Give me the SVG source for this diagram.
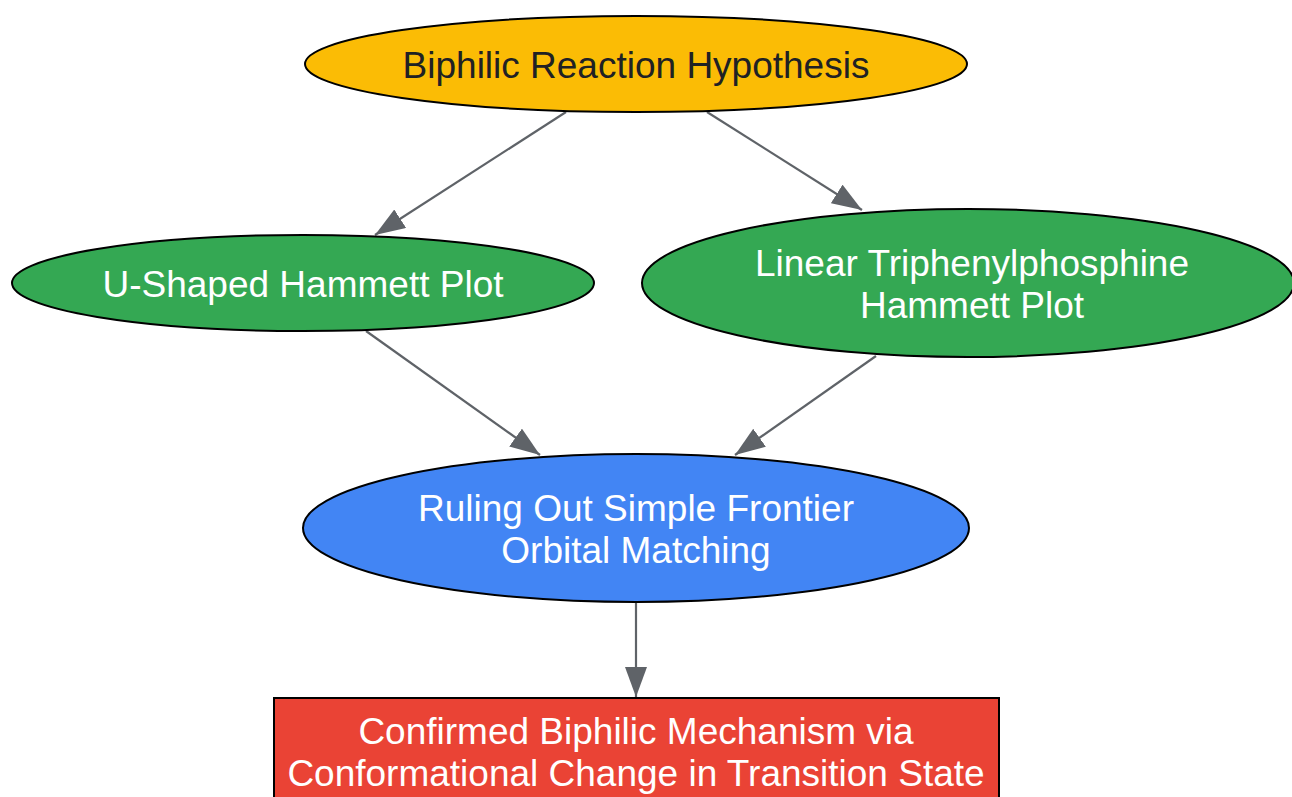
<svg xmlns="http://www.w3.org/2000/svg" width="1292" height="797" viewBox="0 0 1292 797">
<style>
.n{stroke:#000;stroke-width:2}
.t{font-family:"Liberation Sans",Arial,sans-serif;font-size:37px;text-anchor:middle;fill:#fff}
.e{stroke:#5f6368;stroke-width:2.2;fill:none}
</style>
<defs>
<marker id="a" viewBox="0 0 30 22" refX="30" refY="11" markerWidth="30" markerHeight="22" markerUnits="userSpaceOnUse" orient="auto">
<path d="M0,0 L30,11 L0,22 Z" fill="#5f6368"/>
</marker>
</defs>
<rect width="1292" height="797" fill="#fff"/>
<g id="edges">
<line class="e" x1="566" y1="112" x2="375" y2="235" marker-end="url(#a)"/>
<line class="e" x1="707" y1="112" x2="862" y2="210" marker-end="url(#a)"/>
<line class="e" x1="366" y1="331" x2="540" y2="455" marker-end="url(#a)"/>
<line class="e" x1="876" y1="356" x2="735" y2="455" marker-end="url(#a)"/>
<line class="e" x1="636" y1="602" x2="636" y2="697" marker-end="url(#a)"/>
</g>
<g id="hyp">
<ellipse class="n" cx="636" cy="64" rx="331" ry="48" fill="#FBBC05"/>
<text class="t" x="636" y="78" style="fill:#202124">Biphilic Reaction Hypothesis</text>
</g>
<g id="ushaped">
<ellipse class="n" cx="303" cy="283" rx="291" ry="48" fill="#34A853"/>
<text class="t" x="303" y="297">U-Shaped Hammett Plot</text>
</g>
<g id="linear">
<ellipse class="n" cx="968" cy="283" rx="326" ry="74" fill="#34A853"/>
<text class="t" x="972" y="276">Linear Triphenylphosphine</text>
<text class="t" x="972" y="318">Hammett Plot</text>
</g>
<g id="ruling">
<ellipse class="n" cx="636" cy="528" rx="333" ry="74" fill="#4285F4"/>
<text class="t" x="636" y="521">Ruling Out Simple Frontier</text>
<text class="t" x="636" y="563">Orbital Matching</text>
</g>
<g id="confirmed">
<rect class="n" x="274" y="698" width="725" height="110" fill="#EA4335"/>
<text class="t" x="636" y="744">Confirmed Biphilic Mechanism via</text>
<text class="t" x="636" y="786">Conformational Change in Transition State</text>
</g>
</svg>
